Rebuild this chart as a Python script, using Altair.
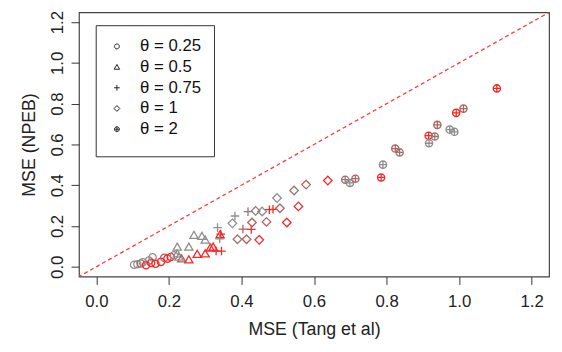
import altair as alt
import pandas as pd

# ---- data ----
theta_labels = ["0.25", "0.5", "0.75", "1", "2"]

c025_x = [0.104, 0.113, 0.122, 0.128, 0.137, 0.145, 0.151, 0.155, 0.163, 0.178, 0.187, 0.196, 0.205, 0.214]
c025_y = [0.010, 0.012, 0.016, 0.022, 0.008, 0.030, 0.019, 0.046, 0.015, 0.024, 0.044, 0.040, 0.048, 0.056]
c025_c = ["g", "g", "b", "g", "r", "g", "r", "g", "r", "r", "b", "r", "r", "g"]

c05_x = [0.223, 0.223, 0.228, 0.235, 0.255, 0.255, 0.278, 0.269, 0.291, 0.300, 0.300, 0.314, 0.322, 0.341]
c05_y = [0.064, 0.097, 0.048, 0.040, 0.097, 0.035, 0.062, 0.155, 0.150, 0.132, 0.064, 0.093, 0.097, 0.158]
c05_c = ["g", "g", "g", "b", "g", "r", "r", "g", "g", "g", "r", "r", "r", "r"]

c075_x = [0.382, 0.418, 0.477, 0.487, 0.334, 0.340, 0.404, 0.427, 0.343, 0.330, 0.345]
c075_y = [0.249, 0.270, 0.280, 0.282, 0.192, 0.137, 0.185, 0.183, 0.160, 0.077, 0.077]
c075_c = ["g", "m", "r", "r", "g", "g", "b", "r", "r", "r", "r"]

c1_x = [0.638, 0.578, 0.545, 0.498, 0.557, 0.506, 0.525, 0.469, 0.457, 0.439, 0.429, 0.375, 0.389, 0.414, 0.449]
c1_y = [0.423, 0.403, 0.374, 0.337, 0.296, 0.287, 0.217, 0.220, 0.271, 0.274, 0.217, 0.213, 0.135, 0.135, 0.132]
c1_c = ["r", "b", "m", "g", "r", "b", "r", "b", "g", "m", "b", "g", "m", "b", "r"]

c2_x = [1.104, 1.012, 0.992, 0.974, 0.987, 0.940, 0.916, 0.933, 0.917, 0.824, 0.836, 0.790, 0.785, 0.686, 0.699, 0.714]
c2_y = [0.875, 0.776, 0.755, 0.673, 0.662, 0.696, 0.643, 0.639, 0.606, 0.580, 0.561, 0.501, 0.438, 0.427, 0.411, 0.432]
c2_c = ["r", "b", "r", "g", "g", "b", "r", "m", "g", "b", "m", "g", "r", "m", "g", "b"]

diag_x = [-0.1, 1.3]
diag_y = [-0.1, 1.3]

x_ticks = [0.0, 0.2, 0.4, 0.6, 0.8, 1.0, 1.2]
y_ticks = [0.0, 0.2, 0.4, 0.6, 0.8, 1.0, 1.2]

palette = {"g": "#8E8E8E", "m": "#9A7474", "b": "#AE6262", "r": "#FA2424"}

rows = []
for lab, xs, ys, cs in zip(theta_labels,
                           [c025_x, c05_x, c075_x, c1_x, c2_x],
                           [c025_y, c05_y, c075_y, c1_y, c2_y],
                           [c025_c, c05_c, c075_c, c1_c, c2_c]):
    for x, y, c in zip(xs, ys, cs):
        rows.append({"x": x, "y": y, "theta": lab, "col": palette[c]})
df = pd.DataFrame(rows)
diag = pd.DataFrame({"x": diag_x, "y": diag_y})

FONT = "Liberation Sans"
dom = [-0.048, 1.248]

shapes = [
    "M0.85,0A0.85,0.85 0 1,1 -0.85,0A0.85,0.85 0 1,1 0.85,0Z",
    "M0,-0.9L0.95,0.75L-0.95,0.75Z",
    "M-1,0L1,0M0,-1L0,1",
    "M0,-1L1,0L0,1L-1,0Z",
    "M0.85,0A0.85,0.85 0 1,1 -0.85,0A0.85,0.85 0 1,1 0.85,0ZM-0.85,0L0.85,0M0,-0.85L0,0.85",
]

xscale = alt.Scale(domain=dom, nice=False, zero=False)
yscale = alt.Scale(domain=dom, nice=False, zero=False)

xaxis = alt.Axis(title="MSE (Tang et al)", values=x_ticks, format=".1f", grid=False,
                 domain=False, tickSize=8, tickColor="#333", labelPadding=9,
                 labelFontSize=17, titleFontSize=18, labelFont=FONT, titleFont=FONT,
                 labelColor="#222", titleColor="#222", titleFontWeight="normal",
                 titlePadding=12, labelFlush=False, labelOverlap=False)
yaxis = alt.Axis(title="MSE (NPEB)", values=y_ticks, format=".1f", grid=False,
                 domain=False, tickSize=8, tickColor="#333", labelPadding=5,
                 labelAngle=270, labelFontSize=17, titleFontSize=18, labelFont=FONT,
                 titleFont=FONT, labelColor="#222", titleColor="#222",
                 titleFontWeight="normal", titlePadding=10, labelFlush=False,
                 labelOverlap=False)

line = alt.Chart(diag).mark_line(color="#FF3A3A", strokeDash=[4, 3], strokeWidth=1.3,
                                 clip=True).encode(
    x=alt.X("x:Q", scale=xscale, axis=xaxis),
    y=alt.Y("y:Q", scale=yscale, axis=yaxis),
)

points = alt.Chart(df).mark_point(filled=False, size=76, strokeWidth=1.3, opacity=1).encode(
    x=alt.X("x:Q", scale=xscale),
    y=alt.Y("y:Q", scale=yscale),
    shape=alt.Shape("theta:N", scale=alt.Scale(domain=theta_labels, range=shapes),
                    legend=alt.Legend(title=" ", titleOrient="bottom", titleFontSize=6,
                                      titlePadding=0, orient="none", legendX=17, legendY=13,
                                      labelExpr="'θ = ' + datum.label",
                                      labelFont=FONT, labelFontSize=17, labelColor="#111",
                                      symbolSize=34, symbolStrokeColor="#222",
                                      symbolFillColor="transparent", symbolStrokeWidth=1,
                                      strokeColor="#333", padding=13, rowPadding=3,
                                      labelOffset=15, fillColor="white")),
    color=alt.Color("col:N", scale=None),
)

chart = alt.layer(line, points).properties(
    width=477, height=268,
    autosize=alt.AutoSizeParams(type="none"),
    padding={"left": 72, "top": 2, "right": 5, "bottom": 66},
).configure_view(stroke="#444", strokeWidth=1.2)

chart.save("out.html", embed_options={"renderer": "svg", "actions": False})
